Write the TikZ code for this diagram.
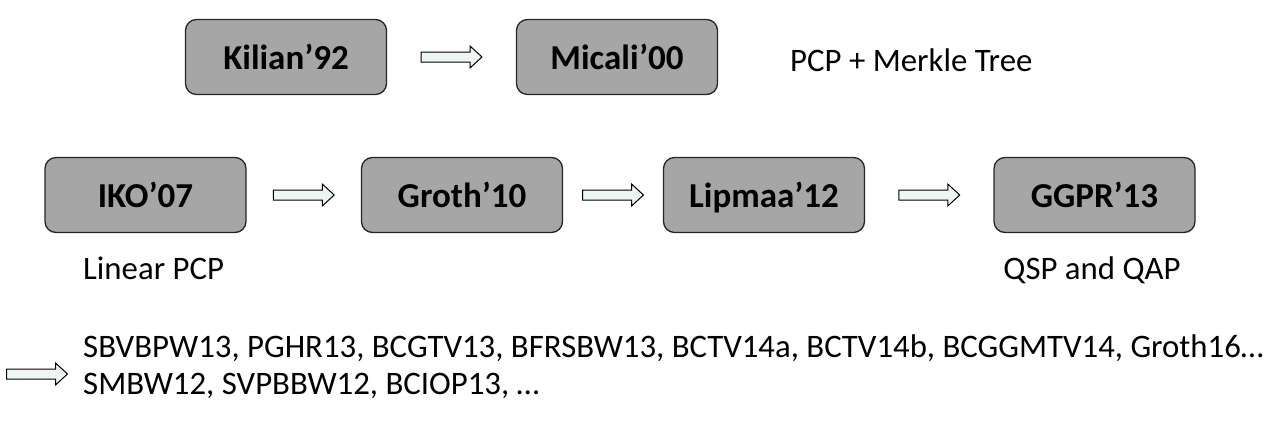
\documentclass[tikz,border=0pt]{standalone}
\usepackage{fontspec}
\setmainfont{Carlito}
\usetikzlibrary{calc}
\definecolor{boxgray}{HTML}{A6A6A6}
\definecolor{arrowfill}{HTML}{EEF6F2}
\begin{document}
\begin{tikzpicture}[x=1pt,y=-1pt,
  paper/.style={draw=black!85, line width=1.3pt, fill=boxgray, rounded corners=11pt,
    minimum width=201pt, minimum height=75pt, inner sep=0pt,
    text height=24pt, text depth=0pt,
    font=\fontsize{35}{40}\selectfont\bfseries},
  pics/blockarrow/.style={code={
    \draw[line width=1pt, fill=arrowfill, line join=miter]
      (-30.5,-5) -- (18.5,-5) -- (18.5,-11) -- (30.5,0) -- (18.5,11) -- (18.5,5) -- (-30.5,5) -- cycle;}},
  lbl/.style={font=\fontsize{32.8}{38}\selectfont, inner sep=0pt}]
\useasboundingbox (0,0) rectangle (1280,424);
% row 1
\node[paper] (k) at (286,57) {Kilian’92};
\node[paper] (m) at (617,57) {Micali’00};
\pic at ($(k.east)!0.5!(m.west)$) {blockarrow};
\node[lbl, anchor=west] (pcp) at (790,60) {PCP + Merkle Tree};
% row 2
\node[paper] (iko) at (145.5,195) {IKO’07};
\node[paper] (gro) at (462,195) {Groth’10};
\node[paper] (lip) at (764,195) {Lipmaa’12};
\node[paper] (ggpr) at (1094.5,195) {GGPR’13};
\pic at ($(iko.east)!0.5!(gro.west)$) {blockarrow};
\pic at ($(gro.east)!0.5!(lip.west)$) {blockarrow};
\pic at ($(lip.east)!0.5!(ggpr.west)$) {blockarrow};
\node[lbl, anchor=west] (lin) at (83,268) {Linear PCP};
\node[lbl] (qsp) at (1092,270) {QSP and QAP};
% bottom
\coordinate (a5) at (37,374);
\pic at (a5) {blockarrow};
\node[lbl, anchor=west] (l1) at (83,348) {SBVBPW13, PGHR13, BCGTV13, BFRSBW13, BCTV14a, BCTV14b, BCGGMTV14, Groth16…};
\node[lbl, anchor=west] (l2) at (83,386) {SMBW12, SVPBBW12, BCIOP13, …};
\end{tikzpicture}
\end{document}
